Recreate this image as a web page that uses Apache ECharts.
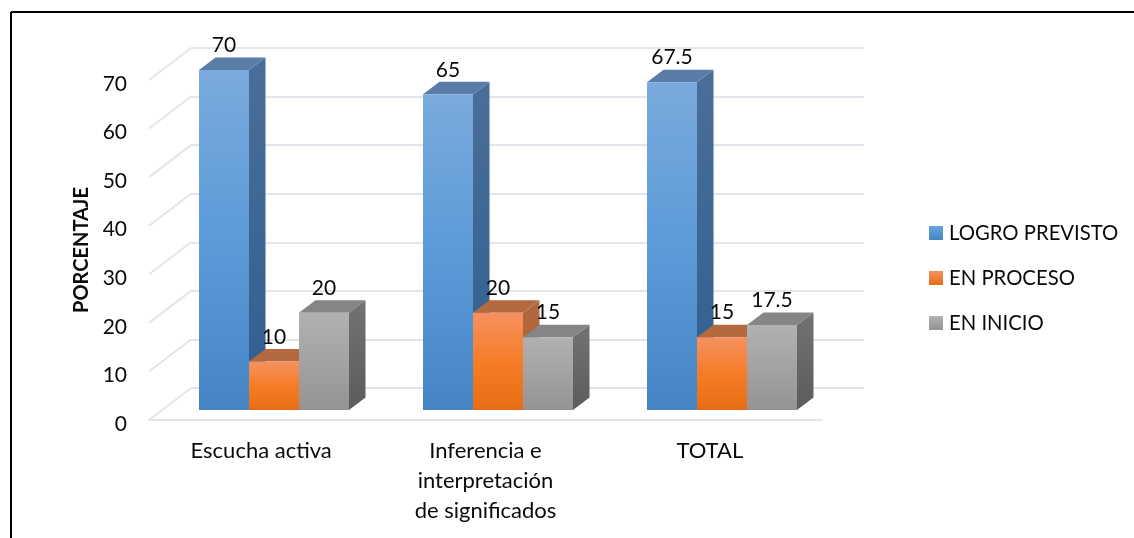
<!DOCTYPE html>
<html>
<head>
<meta charset="utf-8">
<style>html,body{margin:0;padding:0;background:#fff}#c{width:1134px;height:538px}</style>
<script src="https://cdn.jsdelivr.net/npm/echarts@6/dist/echarts.min.js"></script>
</head>
<body>
<div id="c"></div>
<script>
const categories = ['Escucha activa', 'Inferencia e\ninterpretación\nde significados', 'TOTAL'];
const logroPrevisto = [70, 65, 67.5];
const enProceso = [10, 20, 15];
const enInicio = [20, 15, 17.5];
const yTicks = [0, 10, 20, 30, 40, 50, 60, 70];
const seriesNames = ['LOGRO PREVISTO', 'EN PROCESO', 'EN INICIO'];

const FONT = 'Lato';
const GRID_COLOR = '#E3E5EC';
const TEXT = '#0a0a0a';
const BAR_W = 50, DX = 16.5, DY = 12.5;

function grad(stops) {
  return new echarts.graphic.LinearGradient(0, 0, 0, 1,
    stops.map((c, i) => ({ offset: i / (stops.length - 1), color: c })));
}
const palettes = [
  { front: ['#7BAADD', '#5B9BD8', '#4585C6'], side: ['#4A6E98', '#2E5F90'], top: '#5A7DA8', legend: ['#6AA3DC', '#4585C6'] },
  { front: ['#F59160', '#F67D28', '#E76D15'], side: ['#B5693F', '#A85B2E'], top: '#B5693F', legend: ['#F59160', '#E76D15'] },
  { front: ['#B1B1B1', '#A3A3A3', '#949494'], side: ['#727272', '#5C5C5C'], top: '#858585', legend: ['#B1B1B1', '#949494'] }
];

function barSeries(name, values, idx) {
  const pal = palettes[idx];
  return {
    name, type: 'custom', xAxisIndex: 1, yAxisIndex: 1, z: 5 + idx,
    itemStyle: { color: grad(pal.legend) },
    data: values.map((v, i) => [i, v]),
    encode: { x: 0, y: 1 },
    renderItem(params, api) {
      const top = api.coord([api.value(0), api.value(1)]);
      const base = api.coord([api.value(0), 0]);
      const xL = top[0] - BAR_W * 1.5 + idx * BAR_W, xR = xL + BAR_W;
      const yT = top[1], yB = base[1];
      return { type: 'group', children: [
        { type: 'polygon', shape: { points: [[xR, yT], [xR + DX, yT - DY], [xR + DX, yB - DY], [xR, yB]] }, style: { fill: grad(pal.side) } },
        { type: 'polygon', shape: { points: [[xL, yT], [xL + DX, yT - DY], [xR + DX, yT - DY], [xR, yT]] }, style: { fill: pal.top } },
        { type: 'rect', shape: { x: xL, y: yT, width: BAR_W, height: yB - yT }, style: { fill: grad(pal.front) } },
        { type: 'text', x: xL + BAR_W / 2, y: yT - 24.5, style: { text: String(api.value(1)), fill: TEXT, font: '21px ' + FONT, align: 'center', verticalAlign: 'middle' } }
      ] };
    }
  };
}

const chart = echarts.init(document.getElementById('c'));
chart.setOption({
  animation: false,
  backgroundColor: '#fff',
  textStyle: { fontFamily: FONT },
  grid: [
    { left: 149, top: 80, width: 673, height: 340 },
    { left: 162, top: 70, width: 672, height: 340 },
    { left: 191, top: 48, width: 673, height: 340 }
  ],
  xAxis: [
    { gridIndex: 0, type: 'category', data: categories, axisTick: { show: false },
      axisLine: { lineStyle: { color: GRID_COLOR, width: 2 } },
      axisLabel: { color: TEXT, fontSize: 22, fontFamily: FONT, margin: 16, lineHeight: 30, interval: 0 } },
    { gridIndex: 1, type: 'category', data: categories, show: false },
    { gridIndex: 2, type: 'category', data: categories, show: false }
  ],
  yAxis: [
    { gridIndex: 0, type: 'value', min: 0, max: 70, interval: 10, splitLine: { show: false },
      axisLine: { show: false }, axisTick: { show: false },
      axisLabel: { color: TEXT, fontSize: 21, fontFamily: FONT, margin: 22, verticalAlign: 'top', lineHeight: 8 },
      name: 'PORCENTAJE', nameLocation: 'middle', nameGap: 57,
      nameTextStyle: { color: TEXT, fontSize: 20, fontWeight: 'bold', fontFamily: FONT } },
    { gridIndex: 1, type: 'value', min: 0, max: 70, interval: 10, show: false },
    { gridIndex: 2, type: 'value', min: 0, max: 70, interval: 10,
      axisLine: { show: false }, axisTick: { show: false }, axisLabel: { show: false },
      splitLine: { show: true, lineStyle: { color: GRID_COLOR, width: 2 } } }
  ],
  legend: {
    orient: 'vertical', left: 929, top: 223, padding: 0, itemWidth: 14, itemHeight: 14, itemGap: 25,
    icon: 'rect', data: seriesNames,
    textStyle: { color: TEXT, fontSize: 20.3, fontFamily: FONT, padding: [0, 0, 0, 1] }
  },
  series: [
    {
      type: 'custom', name: 'wall', xAxisIndex: 0, yAxisIndex: 0, z: 1, silent: true,
      data: yTicks.map(t => [0, t]), encode: { y: 1 },
      renderItem(params, api) {
        const y = api.coord([0, api.value(1)])[1];
        const x = params.coordSys.x;
        return { type: 'line', shape: { x1: x, y1: y, x2: x + 42, y2: y - 32 }, style: { stroke: GRID_COLOR, lineWidth: 2 } };
      }
    },
    barSeries(seriesNames[0], logroPrevisto, 0),
    barSeries(seriesNames[1], enProceso, 1),
    barSeries(seriesNames[2], enInicio, 2)
  ],
  graphic: [
    { type: 'line', silent: true, shape: { x1: 11, y1: 12, x2: 1134, y2: 12 }, style: { stroke: '#000', lineWidth: 2 } },
    { type: 'line', silent: true, shape: { x1: 11, y1: 12, x2: 11, y2: 538 }, style: { stroke: '#000', lineWidth: 2 } }
  ]
});
</script>
</body>
</html>
